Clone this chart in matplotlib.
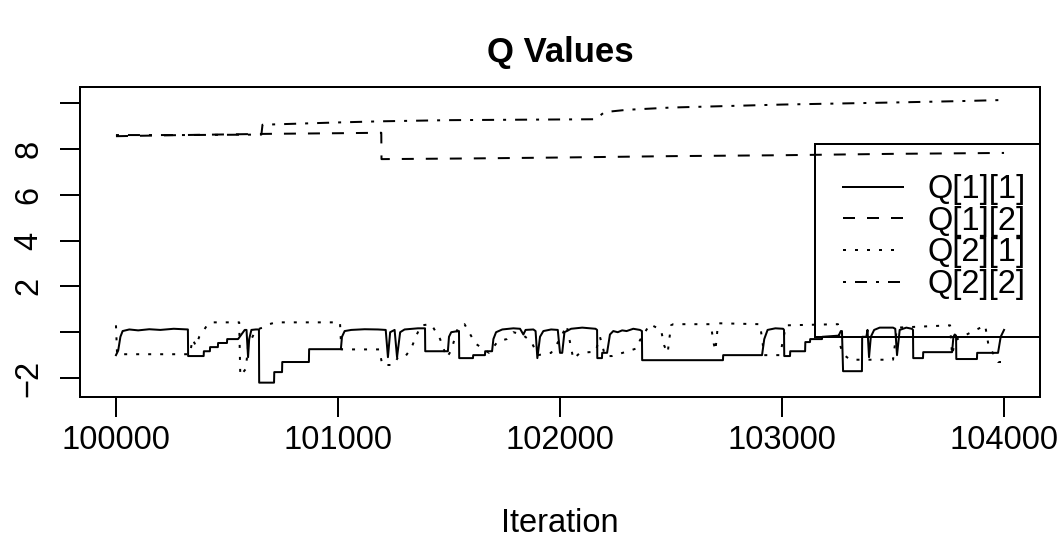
import matplotlib
matplotlib.use("Agg")
import matplotlib.pyplot as plt
from matplotlib.patches import Rectangle

plt.rcParams['font.family'] = ['Liberation Sans', 'DejaVu Sans']

# ---------------- data ----------------
q11_iter = [100000, 100010, 100020, 100030, 100060, 100100, 100150, 100200, 100260, 100320,
            100324, 100325, 100395, 100396, 100423, 100424, 100459, 100460, 100500, 100501,
            100550, 100565, 100580, 100588, 100595, 100600, 100610, 100630, 100644, 100645,
            100712, 100713, 100748, 100749, 100869, 100870, 101013, 101018, 101030, 101060,
            101120, 101180, 101215, 101225, 101235, 101255, 101266, 101280, 101300, 101360,
            101392, 101393, 101495, 101500, 101510, 101540, 101545, 101546, 101608, 101609,
            101662, 101663, 101694, 101700, 101712, 101740, 101790, 101820, 101835, 101845,
            101880, 101890, 101898, 101910, 101925, 101960, 101990, 102000, 102010, 102020,
            102050, 102100, 102160, 102167, 102168, 102189, 102190, 102212, 102225, 102240,
            102260, 102280, 102300, 102330, 102360, 102369, 102370, 102734, 102735, 102910,
            102920, 102935, 102970, 103005, 103009, 103010, 103036, 103037, 103104, 103105,
            103126, 103127, 103180, 103181, 103255, 103265, 103270, 103275, 103360, 103361,
            103380, 103385, 103392, 103400, 103415, 103440, 103500, 103510, 103518, 103530,
            103560, 103585, 103590, 103591, 103635, 103636, 103766, 103772, 103778, 103784,
            103785, 103878, 103879, 103973, 103985, 104000]
q11_vals = [-1.0, -0.8, -0.2, 0.05, 0.12, 0.08, 0.13, 0.1, 0.15, 0.12,
            0.12, -1.04, -1.04, -0.83, -0.83, -0.65, -0.65, -0.47, -0.47, -0.3,
            -0.3, -0.1, 0.1, 0.1, -1.09, -0.3, 0.1, 0.12, 0.12, -2.2,
            -2.2, -1.74, -1.74, -1.3, -1.3, -0.74, -0.74, -0.2, 0.05, 0.1,
            0.13, 0.12, 0.1, -1.09, 0.0, 0.1, -1.09, 0.0, 0.12, 0.17,
            0.17, -0.83, -0.83, -0.2, 0.0, 0.05, 0.05, -1.13, -1.13, -1.0,
            -1.0, -0.83, -0.83, -0.3, 0.0, 0.12, 0.17, 0.15, -0.1, 0.1,
            0.12, 0.05, -1.13, -0.2, 0.05, 0.12, 0.1, -0.9, -0.9, 0.0,
            0.15, 0.2, 0.15, 0.1, -1.13, -1.13, -0.9, -0.9, -0.1, 0.05,
            0.0, 0.08, 0.05, 0.15, 0.1, 0.05, -1.22, -1.22, -1.0, -1.0,
            -0.3, 0.1, 0.17, 0.15, 0.1, -1.04, -1.04, -0.83, -0.83, -0.43,
            -0.43, -0.3, -0.3, -0.2, -0.15, 0.05, 0.05, -1.7, -1.7, -0.2,
            -0.2, 0.1, -1.09, -0.2, 0.1, 0.2, 0.2, 0.15, -1.0, 0.1,
            0.2, 0.15, 0.1, -1.13, -1.13, -0.87, -0.87, -0.2, -0.1, -0.15,
            -1.17, -1.17, -0.9, -0.9, -0.2, 0.1]

q12_iter = [100000, 100300, 100660, 101000, 101195, 101196, 101600, 102000, 102500,
            103000, 103500, 104000]
q12_vals = [8.55, 8.6, 8.65, 8.68, 8.7, 7.55, 7.58, 7.62, 7.68, 7.72, 7.78, 7.82]

q21_iter = [100000, 100005, 100333, 100345, 100360, 100375, 100390, 100410, 100430, 100555,
            100560, 100585, 100595, 100610, 100630, 100660, 100690, 100720, 101009, 101015,
            101185, 101200, 101250, 101270, 101300, 101330, 101355, 101375, 101420, 101460,
            101490, 101510, 101540, 101570, 101590, 101620, 101680, 101720, 101760, 101790,
            101830, 101870, 101900, 101960, 102000, 102030, 102060, 102090, 102160, 102180,
            102203, 102234, 102306, 102347, 102360, 102405, 102455, 102470, 102485, 102500,
            102510, 102680, 102690, 102700, 102712, 102901, 102920, 102991, 103018, 103252,
            103262, 103275, 103307, 103500, 103518, 103757, 103766, 103780, 103915, 103930,
            103973, 104000]
q21_vals = [0.3, -0.96, -0.96, -0.3, -0.6, -0.2, 0.0, 0.3, 0.43, 0.43,
            -1.9, -1.6, -0.6, -0.3, 0.1, 0.2, 0.35, 0.43, 0.43, -0.75,
            -0.75, -1.43, -1.43, -1.1, -1.1, -0.7, -0.1, 0.3, 0.35, -0.3,
            -1.1, -0.8, 0.2, 0.35, 0.0, -0.5, -0.9, -0.4, -0.3, 0.0,
            -0.1, -0.4, -1.0, -0.9, -0.3, 0.3, -1.17, -0.9, -0.85, -0.2,
            -1.04, -1.04, -0.83, -0.7, -0.35, 0.35, 0.1, -0.6, -0.9, 0.3,
            0.35, 0.35, -0.4, -0.8, 0.39, 0.35, -1.0, -1.0, 0.3, 0.35,
            -0.57, -0.96, -1.2, -1.2, 0.2, 0.3, -1.0, -0.35, 0.3, -0.57,
            -1.3, -1.3]

q22_iter = [100000, 100300, 100655, 100660, 101000, 101195, 101500, 102160, 102200, 102300,
            102500, 103000, 103500, 103800, 104000]
q22_vals = [8.6, 8.6, 8.62, 9.05, 9.15, 9.2, 9.25, 9.29, 9.6, 9.7,
            9.8, 9.93, 10.02, 10.08, 10.13]

series_labels = ["Q[1][1]", "Q[1][2]", "Q[2][1]", "Q[2][2]"]
x_ticks = [100000, 101000, 102000, 103000, 104000]
y_ticks = [-2, 0, 2, 4, 6, 8, 10]
y_ticklabels = ["\u22122", "", "2", "4", "6", "8", ""]

# ---------------- figure ----------------
W, H = 1060, 544
fig = plt.figure(figsize=(W / 100, H / 100), dpi=100)
L, R, T, B = 80, 1040, 87, 397
ax = fig.add_axes([L / W, 1 - B / H, (R - L) / W, (B - T) / H])

lw = 1.44
fs = 23.5
ax.plot(q11_iter, q11_vals, color='black', lw=lw, linestyle='-', label=series_labels[0])
ax.plot(q12_iter, q12_vals, color='black', lw=lw, linestyle=(0, (6, 6)), label=series_labels[1])
ax.plot(q21_iter, q21_vals, color='black', lw=lw, linestyle=(0, (1.5, 4.5)), label=series_labels[2])
ax.plot(q22_iter, q22_vals, color='black', lw=lw, linestyle=(0, (1.5, 4.5, 6, 4.5)), label=series_labels[3])

ax.set_xlim(99838, 104162)
ax.set_ylim(-2.826, 10.696)

ax.set_xticks(x_ticks)
ax.set_xticklabels([str(v) for v in x_ticks], fontsize=fs)
ax.set_yticks(y_ticks)
ax.set_yticklabels(y_ticklabels, fontsize=fs, rotation=90, va='center')
ax.tick_params(axis='both', direction='out', length=14.4, width=lw, colors='black')
ax.tick_params(axis='x', pad=6)
ax.tick_params(axis='y', pad=11)
for sp in ax.spines.values():
    sp.set_linewidth(lw)
    sp.set_color('black')

ax.set_xlabel("Iteration", fontsize=fs)
ax.xaxis.set_label_coords(0.5, (B - 524) / (B - T))
ax.xaxis.label.set_va('center')
ax.set_title("Q Values", fontsize=25, fontweight='bold', y=(B - 61) / (B - T))
ax.title.set_verticalalignment('center')

# legend: transparent, entries placed like R's legend("right")
leg = ax.legend(loc='upper left',
                bbox_to_anchor=((843 - L) / (R - L), (B - 174) / (B - T)),
                borderaxespad=0, borderpad=0,
                fontsize=fs, frameon=False, handlelength=1.85, handletextpad=0.75,
                labelspacing=0.02)
# R-style legend box (transparent)
box = Rectangle(((815 - L) / (R - L), (B - 337) / (B - T)),
                (R - 815) / (R - L), (337 - 144) / (B - T),
                transform=ax.transAxes, fill=False, edgecolor='black', lw=lw,
                clip_on=False, zorder=5)
ax.add_patch(box)

fig.savefig("out.png", dpi=100)
